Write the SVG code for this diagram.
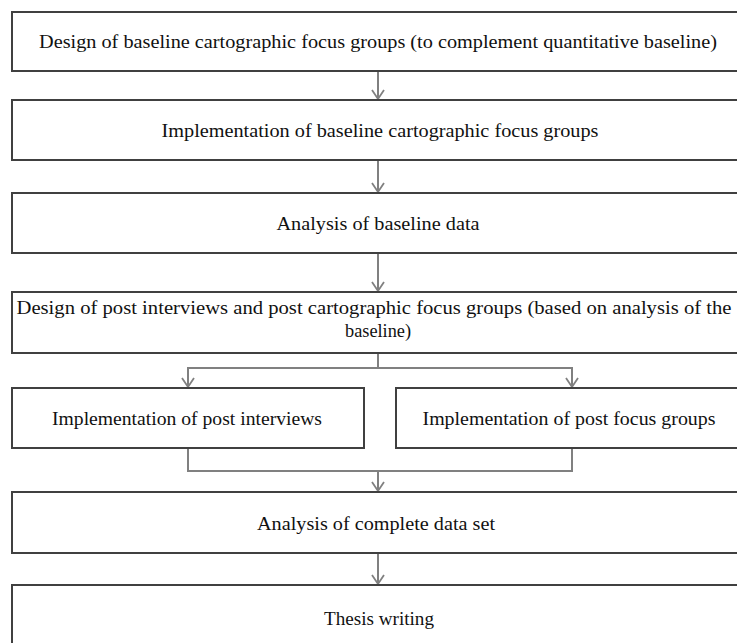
<svg xmlns="http://www.w3.org/2000/svg" width="737" height="643" viewBox="0 0 737 643">
<defs>
<style>
.box{fill:#fff;stroke:#404040;stroke-width:2}
.t{font-family:"Liberation Serif","Times New Roman",serif;font-size:19px;fill:#111;text-anchor:middle}
.c{fill:none;stroke:#808080;stroke-width:2}
</style>
<marker id="ah" markerWidth="14" markerHeight="14" refX="11" refY="7" orient="auto" markerUnits="userSpaceOnUse" viewBox="0 0 14 14">
<path d="M2,1 L11,7 L2,13" fill="none" stroke="#808080" stroke-width="1.8"/>
</marker>
</defs>
<rect width="737" height="643" fill="#fff"/>
<g id="connectors">
<line class="c" x1="378" y1="71" x2="378" y2="99" marker-end="url(#ah)"/>
<line class="c" x1="378" y1="160" x2="378" y2="192" marker-end="url(#ah)"/>
<line class="c" x1="378" y1="253" x2="378" y2="291" marker-end="url(#ah)"/>
<path class="c" d="M378,353 V368 M188,368 H572"/>
<line class="c" x1="188" y1="367" x2="188" y2="387" marker-end="url(#ah)"/>
<line class="c" x1="572" y1="367" x2="572" y2="387" marker-end="url(#ah)"/>
<path class="c" d="M188,448 V471 H572 V448"/>
<line class="c" x1="378" y1="471" x2="378" y2="491" marker-end="url(#ah)"/>
<line class="c" x1="378" y1="553" x2="378" y2="584" marker-end="url(#ah)"/>
</g>
<g id="n1">
<rect class="box" x="12" y="12" width="740" height="59"/>
<text class="t" x="378" y="48" textLength="678" lengthAdjust="spacingAndGlyphs">Design of baseline cartographic focus groups (to complement quantitative baseline)</text>
</g>
<g id="n2">
<rect class="box" x="12" y="100" width="740" height="60"/>
<text class="t" x="380" y="137" textLength="437" lengthAdjust="spacingAndGlyphs">Implementation of baseline cartographic focus groups</text>
</g>
<g id="n3">
<rect class="box" x="12" y="193" width="740" height="60"/>
<text class="t" x="378" y="230" textLength="203" lengthAdjust="spacingAndGlyphs">Analysis of baseline data</text>
</g>
<g id="n4">
<rect class="box" x="12" y="292" width="740" height="61"/>
<text class="t" x="374" y="314" textLength="715" lengthAdjust="spacingAndGlyphs">Design of post interviews and post cartographic focus groups (based on analysis of the</text>
<text class="t" x="378" y="337" textLength="66" lengthAdjust="spacingAndGlyphs">baseline)</text>
</g>
<g id="n5a">
<rect class="box" x="12" y="388" width="352" height="60"/>
<text class="t" x="187" y="425" textLength="270" lengthAdjust="spacingAndGlyphs">Implementation of post interviews</text>
</g>
<g id="n5b">
<rect class="box" x="396" y="388" width="356" height="60"/>
<text class="t" x="569" y="425" textLength="293" lengthAdjust="spacingAndGlyphs">Implementation of post focus groups</text>
</g>
<g id="n6">
<rect class="box" x="12" y="492" width="740" height="61"/>
<text class="t" x="376" y="530" textLength="238" lengthAdjust="spacingAndGlyphs">Analysis of complete data set</text>
</g>
<g id="n7">
<rect class="box" x="12" y="585" width="740" height="70"/>
<text class="t" x="379" y="625" textLength="110" lengthAdjust="spacingAndGlyphs">Thesis writing</text>
</g>
</svg>
